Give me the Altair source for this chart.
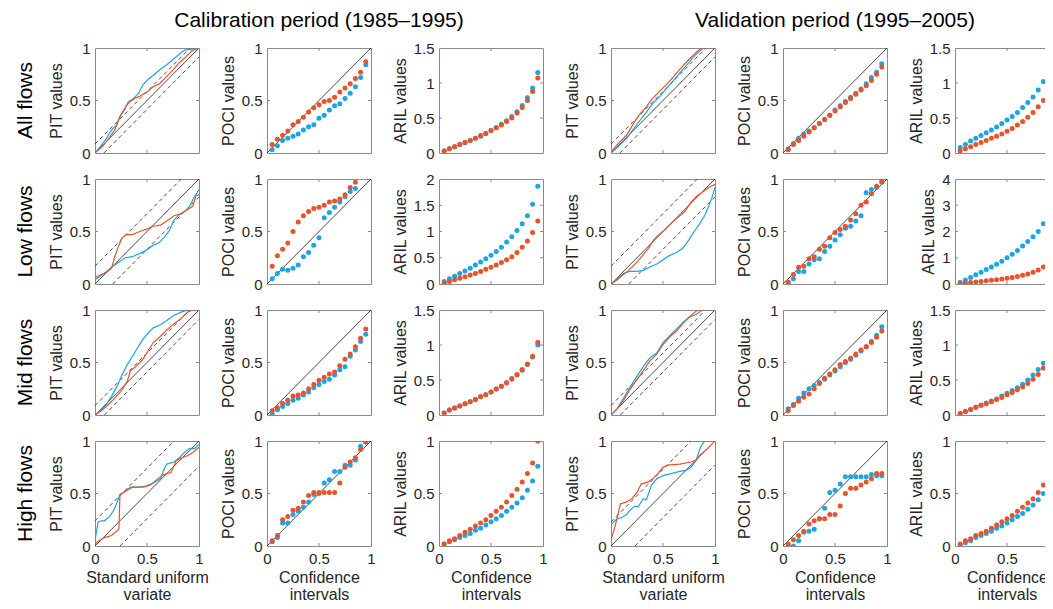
import altair as alt
import pandas as pd

FONT = "Liberation Sans"
BLUE = "#1ca5e4"
ORANGE = "#e8532b"
INK = "#262626"
FRAME = "#8a8a8a"

# ---------------- shared labels ----------------
row_labels = ["All flows", "Low flows", "Mid flows", "High flows"]
period_titles = ["Calibration period (1985–1995)", "Validation period (1995–2005)"]
ci = [0.05, 0.10, 0.15, 0.20, 0.25, 0.30, 0.35, 0.40, 0.45, 0.50,
      0.55, 0.60, 0.65, 0.70, 0.75, 0.80, 0.85, 0.90, 0.95]
unit_ticks = [0, 0.5, 1]

# Kolmogorov band half-widths of the PIT panels (rows: all, low, mid, high)
ks_band_cal = [0.085, 0.17, 0.09, 0.24]
ks_band_val = [0.085, 0.17, 0.09, 0.23]

# ARIL y-axis tick values (rows: all, low, mid, high)
aril_ticks_cal = [[0, 0.5, 1, 1.5], [0, 0.5, 1, 1.5, 2], [0, 0.5, 1, 1.5], [0, 0.5, 1]]
aril_ticks_val = [[0, 0.5, 1, 1.5], [0, 1, 2, 3, 4], [0, 0.5, 1, 1.5], [0, 0.5, 1]]

# ---------------- PIT curves (u = standard uniform variate, p = PIT value) ----------------
pit_all_cal_blue_u = [0, 0.05, 0.11, 0.16, 0.21, 0.24, 0.29, 0.32, 0.37, 0.42, 0.46, 0.51, 0.56, 0.62, 0.69, 0.75, 0.81, 0.86, 0.93, 1]
pit_all_cal_blue_p = [0, 0.06, 0.14, 0.22, 0.27, 0.35, 0.42, 0.49, 0.52, 0.57, 0.65, 0.70, 0.74, 0.79, 0.84, 0.89, 0.94, 0.98, 0.99, 1]
pit_all_cal_orange_u = [0, 0.08, 0.14, 0.19, 0.22, 0.26, 0.30, 0.34, 0.38, 0.43, 0.50, 0.56, 0.62, 0.69, 0.75, 0.81, 0.88, 0.94, 1]
pit_all_cal_orange_p = [0, 0.07, 0.15, 0.22, 0.30, 0.38, 0.45, 0.49, 0.52, 0.54, 0.58, 0.63, 0.66, 0.73, 0.79, 0.86, 0.92, 0.98, 1]
pit_all_val_blue_u = [0, 0.08, 0.15, 0.21, 0.27, 0.34, 0.40, 0.47, 0.53, 0.60, 0.66, 0.73, 0.79, 0.85, 0.89, 1]
pit_all_val_blue_p = [0, 0.07, 0.14, 0.22, 0.30, 0.39, 0.47, 0.54, 0.61, 0.69, 0.76, 0.84, 0.91, 0.97, 1.0, 1.0]
pit_all_val_orange_u = [0, 0.08, 0.15, 0.21, 0.27, 0.34, 0.39, 0.44, 0.50, 0.56, 0.63, 0.69, 0.76, 0.82, 0.87, 1]
pit_all_val_orange_p = [0.01, 0.10, 0.17, 0.27, 0.36, 0.44, 0.51, 0.56, 0.62, 0.68, 0.76, 0.83, 0.90, 0.96, 1.0, 1.0]
pit_low_cal_blue_u = [0, 0.06, 0.11, 0.16, 0.23, 0.29, 0.36, 0.43, 0.49, 0.56, 0.61, 0.66, 0.71, 0.76, 0.81, 0.86, 0.91, 0.95, 1]
pit_low_cal_blue_p = [0.04, 0.08, 0.12, 0.16, 0.21, 0.25, 0.26, 0.29, 0.32, 0.37, 0.39, 0.44, 0.50, 0.61, 0.66, 0.69, 0.74, 0.82, 0.90]
pit_low_cal_orange_u = [0, 0.06, 0.11, 0.16, 0.19, 0.23, 0.26, 0.30, 0.36, 0.43, 0.49, 0.56, 0.63, 0.69, 0.76, 0.83, 0.89, 0.94, 0.97, 1]
pit_low_cal_orange_p = [0.06, 0.09, 0.11, 0.15, 0.26, 0.37, 0.44, 0.47, 0.47, 0.50, 0.52, 0.55, 0.56, 0.60, 0.65, 0.67, 0.71, 0.74, 0.84, 0.85]
pit_low_val_blue_u = [0, 0.06, 0.12, 0.18, 0.25, 0.31, 0.37, 0.44, 0.50, 0.56, 0.63, 0.69, 0.75, 0.80, 0.85, 0.90, 0.94, 0.97, 1]
pit_low_val_blue_p = [0, 0.05, 0.10, 0.12, 0.12, 0.13, 0.16, 0.19, 0.23, 0.27, 0.30, 0.34, 0.42, 0.50, 0.57, 0.65, 0.74, 0.82, 0.92]
pit_low_val_orange_u = [0, 0.06, 0.12, 0.17, 0.22, 0.26, 0.31, 0.36, 0.41, 0.45, 0.52, 0.58, 0.64, 0.71, 0.77, 0.83, 0.90, 0.94, 1]
pit_low_val_orange_p = [0, 0.04, 0.09, 0.13, 0.18, 0.22, 0.28, 0.34, 0.42, 0.46, 0.52, 0.58, 0.63, 0.69, 0.78, 0.84, 0.89, 0.92, 0.95]
pit_mid_cal_blue_u = [0, 0.06, 0.11, 0.16, 0.21, 0.26, 0.31, 0.36, 0.41, 0.46, 0.51, 0.56, 0.63, 0.69, 0.76, 0.83, 0.89, 1]
pit_mid_cal_blue_p = [0, 0.05, 0.10, 0.18, 0.27, 0.38, 0.48, 0.56, 0.64, 0.72, 0.78, 0.83, 0.86, 0.90, 0.95, 0.98, 1.0, 1.0]
pit_mid_cal_orange_u = [0, 0.06, 0.13, 0.19, 0.26, 0.31, 0.34, 0.39, 0.46, 0.51, 0.56, 0.63, 0.69, 0.76, 0.83, 0.89, 0.94, 1]
pit_mid_cal_orange_p = [0, 0.04, 0.10, 0.16, 0.24, 0.32, 0.42, 0.46, 0.53, 0.61, 0.69, 0.75, 0.81, 0.87, 0.92, 0.98, 1.0, 1.0]
pit_mid_val_blue_u = [0, 0.06, 0.12, 0.18, 0.25, 0.31, 0.37, 0.44, 0.50, 0.56, 0.63, 0.69, 0.75, 0.82, 0.88, 1]
pit_mid_val_blue_p = [0, 0.06, 0.16, 0.26, 0.37, 0.46, 0.54, 0.59, 0.69, 0.75, 0.82, 0.88, 0.93, 0.96, 1.0, 1.0]
pit_mid_val_orange_u = [0, 0.06, 0.12, 0.18, 0.25, 0.31, 0.37, 0.44, 0.50, 0.56, 0.63, 0.69, 0.75, 0.82, 0.85, 1]
pit_mid_val_orange_p = [0, 0.06, 0.14, 0.24, 0.34, 0.42, 0.51, 0.58, 0.67, 0.74, 0.80, 0.87, 0.93, 0.99, 1.0, 1.0]
pit_high_cal_blue_u = [0, 0.03, 0.06, 0.09, 0.14, 0.18, 0.21, 0.24, 0.29, 0.34, 0.41, 0.49, 0.56, 0.63, 0.66, 0.69, 0.76, 0.81, 0.86, 0.91, 0.96, 1]
pit_high_cal_blue_p = [0.05, 0.23, 0.24, 0.24, 0.28, 0.34, 0.41, 0.49, 0.52, 0.56, 0.56, 0.57, 0.60, 0.64, 0.72, 0.78, 0.80, 0.84, 0.89, 0.93, 0.93, 0.97]
pit_high_cal_orange_u = [0, 0.04, 0.09, 0.16, 0.23, 0.24, 0.29, 0.36, 0.46, 0.53, 0.59, 0.66, 0.73, 0.78, 0.83, 0.89, 0.94, 1]
pit_high_cal_orange_p = [0.02, 0.05, 0.08, 0.10, 0.16, 0.49, 0.52, 0.56, 0.56, 0.58, 0.63, 0.68, 0.70, 0.81, 0.84, 0.86, 0.89, 0.94]
pit_high_val_blue_u = [0, 0.06, 0.10, 0.15, 0.18, 0.23, 0.26, 0.31, 0.34, 0.39, 0.44, 0.50, 0.58, 0.66, 0.72, 0.77, 0.82, 0.86, 0.90, 1]
pit_high_val_blue_p = [0.21, 0.26, 0.27, 0.30, 0.34, 0.38, 0.37, 0.45, 0.44, 0.58, 0.64, 0.67, 0.69, 0.71, 0.72, 0.75, 0.82, 0.94, 1.0, 1.0]
pit_high_val_orange_u = [0, 0.04, 0.09, 0.15, 0.20, 0.25, 0.29, 0.36, 0.40, 0.45, 0.50, 0.55, 0.66, 0.77, 0.82, 0.86, 0.93, 1]
pit_high_val_orange_p = [0.06, 0.19, 0.40, 0.42, 0.45, 0.51, 0.59, 0.61, 0.64, 0.69, 0.75, 0.77, 0.78, 0.80, 0.82, 0.87, 0.93, 1.0]

# ---------------- POCI values at each confidence interval ----------------
poci_all_cal_blue = [0.03, 0.07, 0.12, 0.14, 0.16, 0.18, 0.22, 0.25, 0.27, 0.33, 0.36, 0.41, 0.45, 0.47, 0.52, 0.57, 0.63, 0.72, 0.84]
poci_all_cal_orange = [0.08, 0.13, 0.17, 0.21, 0.27, 0.30, 0.34, 0.39, 0.43, 0.46, 0.49, 0.50, 0.53, 0.58, 0.62, 0.66, 0.71, 0.77, 0.87]
poci_all_val_blue = [0.04, 0.09, 0.14, 0.18, 0.21, 0.24, 0.28, 0.32, 0.36, 0.41, 0.45, 0.49, 0.53, 0.57, 0.61, 0.66, 0.72, 0.77, 0.85]
poci_all_val_orange = [0.03, 0.08, 0.12, 0.16, 0.20, 0.24, 0.28, 0.32, 0.36, 0.40, 0.44, 0.48, 0.52, 0.56, 0.60, 0.64, 0.69, 0.75, 0.82]
poci_low_cal_blue = [0.05, 0.10, 0.14, 0.13, 0.15, 0.18, 0.26, 0.30, 0.37, 0.44, 0.63, 0.68, 0.73, 0.78, 0.83, 0.88, 0.91, None, None]
poci_low_cal_orange = [0.17, 0.27, 0.33, 0.39, 0.50, 0.59, 0.65, 0.69, 0.72, 0.73, 0.75, 0.78, 0.79, 0.81, 0.85, 0.92, 0.97, None, None]
poci_low_val_blue = [0.01, 0.05, 0.12, 0.12, 0.19, 0.23, 0.24, 0.31, 0.36, 0.42, 0.47, 0.53, 0.55, 0.60, 0.65, 0.87, 0.90, 0.92, 0.97]
poci_low_val_orange = [0.02, 0.09, 0.16, 0.17, 0.24, 0.26, 0.33, 0.36, 0.44, 0.49, 0.52, 0.55, 0.61, 0.67, 0.75, 0.78, 0.86, 0.93, 0.98]
poci_mid_cal_blue = [0.01, 0.05, 0.08, 0.11, 0.14, 0.16, 0.19, 0.22, 0.26, 0.29, 0.32, 0.34, 0.38, 0.43, 0.46, 0.56, 0.62, 0.70, 0.77]
poci_mid_cal_orange = [0.04, 0.07, 0.11, 0.14, 0.18, 0.19, 0.21, 0.25, 0.29, 0.33, 0.36, 0.39, 0.41, 0.47, 0.53, 0.58, 0.65, 0.73, 0.82]
poci_mid_val_blue = [0.06, 0.10, 0.16, 0.21, 0.25, 0.28, 0.31, 0.34, 0.38, 0.42, 0.46, 0.50, 0.53, 0.57, 0.61, 0.65, 0.70, 0.76, 0.84]
poci_mid_val_orange = [0.04, 0.09, 0.13, 0.17, 0.20, 0.25, 0.30, 0.35, 0.39, 0.43, 0.48, 0.51, 0.54, 0.58, 0.62, 0.65, 0.69, 0.74, 0.80]
poci_high_cal_blue = [0.04, 0.08, 0.22, 0.22, 0.30, 0.33, 0.37, 0.42, 0.49, 0.50, 0.60, 0.63, 0.71, 0.71, 0.77, 0.77, 0.82, 0.95, 0.99]
poci_high_cal_orange = [0.05, 0.10, 0.25, 0.28, 0.34, 0.36, 0.42, 0.48, 0.51, 0.51, 0.51, 0.51, 0.51, 0.60, 0.75, 0.80, 0.84, 0.92, 0.99]
poci_high_val_blue = [0.00, 0.00, 0.05, 0.13, 0.14, 0.16, 0.26, 0.36, 0.51, 0.53, 0.59, 0.66, 0.66, 0.66, 0.66, 0.66, 0.68, 0.67, 0.67]
poci_high_val_orange = [0.02, 0.06, 0.10, 0.14, 0.21, 0.24, 0.26, 0.26, 0.30, 0.30, 0.38, 0.50, 0.55, 0.55, 0.58, 0.61, 0.64, 0.69, 0.69]

# ---------------- ARIL values at each confidence interval ----------------
aril_all_cal_blue = [0.03, 0.06, 0.09, 0.12, 0.15, 0.18, 0.21, 0.24, 0.28, 0.32, 0.36, 0.41, 0.46, 0.52, 0.59, 0.68, 0.79, 0.93, 1.15]
aril_all_cal_orange = [0.03, 0.06, 0.09, 0.12, 0.15, 0.18, 0.21, 0.25, 0.28, 0.32, 0.36, 0.40, 0.45, 0.50, 0.57, 0.65, 0.75, 0.88, 1.07]
aril_all_val_blue = [0.08, 0.12, 0.17, 0.21, 0.25, 0.29, 0.33, 0.37, 0.42, 0.47, 0.52, 0.58, 0.65, 0.72, 0.80, 0.90, 1.02, 1.20, 1.45]
aril_all_val_orange = [0.03, 0.06, 0.09, 0.12, 0.15, 0.18, 0.21, 0.24, 0.27, 0.31, 0.35, 0.40, 0.45, 0.51, 0.58, 0.66, 0.75, 0.86, 1.06]
aril_low_cal_blue = [0.05, 0.10, 0.15, 0.20, 0.25, 0.30, 0.36, 0.42, 0.48, 0.55, 0.62, 0.70, 0.80, 0.90, 1.02, 1.15, 1.30, 1.52, 1.86]
aril_low_cal_orange = [0.02, 0.05, 0.08, 0.11, 0.14, 0.17, 0.20, 0.24, 0.28, 0.32, 0.36, 0.41, 0.46, 0.52, 0.60, 0.70, 0.82, 0.98, 1.20]
aril_low_val_blue = [0.07, 0.15, 0.25, 0.35, 0.45, 0.55, 0.65, 0.75, 0.87, 1.00, 1.13, 1.28, 1.45, 1.62, 1.80, 2.00, 2.30, 2.65, 3.25]
aril_low_val_orange = [0.02, 0.04, 0.06, 0.08, 0.10, 0.12, 0.14, 0.16, 0.19, 0.22, 0.25, 0.29, 0.33, 0.38, 0.45, 0.53, 0.65, 0.83, 1.12]
aril_mid_cal_blue = [0.03, 0.07, 0.10, 0.13, 0.16, 0.19, 0.22, 0.26, 0.29, 0.33, 0.37, 0.41, 0.46, 0.51, 0.57, 0.64, 0.72, 0.83, 1.00]
aril_mid_cal_orange = [0.03, 0.07, 0.10, 0.13, 0.16, 0.19, 0.22, 0.26, 0.29, 0.33, 0.37, 0.41, 0.46, 0.52, 0.58, 0.65, 0.73, 0.84, 1.04]
aril_mid_val_blue = [0.02, 0.05, 0.08, 0.11, 0.14, 0.17, 0.20, 0.23, 0.27, 0.31, 0.35, 0.39, 0.44, 0.50, 0.57, 0.65, 0.74, 0.86, 1.05]
aril_mid_val_orange = [0.02, 0.05, 0.08, 0.11, 0.14, 0.16, 0.19, 0.22, 0.25, 0.29, 0.32, 0.36, 0.40, 0.45, 0.51, 0.58, 0.67, 0.78, 0.95]
aril_high_cal_blue = [0.02, 0.04, 0.06, 0.08, 0.10, 0.12, 0.15, 0.17, 0.20, 0.23, 0.26, 0.29, 0.33, 0.37, 0.41, 0.46, 0.53, 0.62, 0.76]
aril_high_cal_orange = [0.02, 0.05, 0.07, 0.10, 0.13, 0.16, 0.19, 0.22, 0.25, 0.29, 0.33, 0.37, 0.42, 0.48, 0.54, 0.61, 0.69, 0.79, 1.00]
aril_high_val_blue = [0.01, 0.03, 0.05, 0.08, 0.10, 0.12, 0.14, 0.17, 0.19, 0.22, 0.25, 0.28, 0.31, 0.35, 0.39, 0.44, 0.50, 0.57, 0.70]
aril_high_val_orange = [0.02, 0.05, 0.07, 0.10, 0.12, 0.14, 0.17, 0.20, 0.23, 0.26, 0.29, 0.33, 0.37, 0.41, 0.45, 0.51, 0.58, 0.67, 0.83]

# ---------------- grouping by (row, period) ----------------
pit_data = {
    ("all", "cal"): (pit_all_cal_blue_u, pit_all_cal_blue_p, pit_all_cal_orange_u, pit_all_cal_orange_p),
    ("all", "val"): (pit_all_val_blue_u, pit_all_val_blue_p, pit_all_val_orange_u, pit_all_val_orange_p),
    ("low", "cal"): (pit_low_cal_blue_u, pit_low_cal_blue_p, pit_low_cal_orange_u, pit_low_cal_orange_p),
    ("low", "val"): (pit_low_val_blue_u, pit_low_val_blue_p, pit_low_val_orange_u, pit_low_val_orange_p),
    ("mid", "cal"): (pit_mid_cal_blue_u, pit_mid_cal_blue_p, pit_mid_cal_orange_u, pit_mid_cal_orange_p),
    ("mid", "val"): (pit_mid_val_blue_u, pit_mid_val_blue_p, pit_mid_val_orange_u, pit_mid_val_orange_p),
    ("high", "cal"): (pit_high_cal_blue_u, pit_high_cal_blue_p, pit_high_cal_orange_u, pit_high_cal_orange_p),
    ("high", "val"): (pit_high_val_blue_u, pit_high_val_blue_p, pit_high_val_orange_u, pit_high_val_orange_p),
}
poci_data = {
    ("all", "cal"): (poci_all_cal_blue, poci_all_cal_orange),
    ("all", "val"): (poci_all_val_blue, poci_all_val_orange),
    ("low", "cal"): (poci_low_cal_blue, poci_low_cal_orange),
    ("low", "val"): (poci_low_val_blue, poci_low_val_orange),
    ("mid", "cal"): (poci_mid_cal_blue, poci_mid_cal_orange),
    ("mid", "val"): (poci_mid_val_blue, poci_mid_val_orange),
    ("high", "cal"): (poci_high_cal_blue, poci_high_cal_orange),
    ("high", "val"): (poci_high_val_blue, poci_high_val_orange),
}
aril_data = {
    ("all", "cal"): (aril_all_cal_blue, aril_all_cal_orange),
    ("all", "val"): (aril_all_val_blue, aril_all_val_orange),
    ("low", "cal"): (aril_low_cal_blue, aril_low_cal_orange),
    ("low", "val"): (aril_low_val_blue, aril_low_val_orange),
    ("mid", "cal"): (aril_mid_cal_blue, aril_mid_cal_orange),
    ("mid", "val"): (aril_mid_val_blue, aril_mid_val_orange),
    ("high", "cal"): (aril_high_cal_blue, aril_high_cal_orange),
    ("high", "val"): (aril_high_val_blue, aril_high_val_orange),
}
row_keys = ["all", "low", "mid", "high"]

W, H = 104, 105
TICK = 3                      # length of the inward tick marks, px
SVG_W, SVG_H = 1037, 593      # drawing surface; the right column runs past it, as in the source
ORIGIN_X, ORIGIN_Y = 87, 40   # top-left corner of the first panel inside the surface


def encodings(bottom, xtitle, ytitle, yvals):
    if bottom:
        xax = alt.Axis(values=unit_ticks, format="~g", title=xtitle, labelFlush=False,
                       labelOverlap=False, labelPadding=5, titlePadding=3,
                       titleFontSize=16, titleLineHeight=17)
    else:
        xax = alt.Axis(values=unit_ticks, labels=False, title=None)
    yax = alt.Axis(values=yvals, format="~g", title=ytitle, labelFlush=False,
                   labelOverlap=False, labelPadding=5, titlePadding=5)
    x = alt.X("x:Q", scale=alt.Scale(domain=[0, 1], nice=False, zero=False), axis=xax)
    y = alt.Y("y:Q", scale=alt.Scale(domain=[yvals[0], yvals[-1]], nice=False, zero=False), axis=yax)
    return x, y


def inner_ticks(x, y, yvals):
    """MATLAB-style inward ticks on all four sides of the box."""
    xdf = pd.DataFrame({"x": unit_ticks[1:-1]})
    ydf = pd.DataFrame({"y": yvals[1:-1]})
    rule = dict(color=FRAME, strokeWidth=1)
    return [
        alt.Chart(xdf).mark_rule(**rule).encode(x=x, y=alt.value(0), y2=alt.value(TICK)),
        alt.Chart(xdf).mark_rule(**rule).encode(x=x, y=alt.value(H - TICK), y2=alt.value(H)),
        alt.Chart(ydf).mark_rule(**rule).encode(y=y, x=alt.value(0), x2=alt.value(TICK)),
        alt.Chart(ydf).mark_rule(**rule).encode(y=y, x=alt.value(W - TICK), x2=alt.value(W)),
    ]


def finish(layers, title):
    ch = alt.layer(*layers)
    if title is not None:
        return ch.properties(width=W, height=H, title=title)
    return ch.properties(width=W, height=H)


def diag_layer(x, y):
    df = pd.DataFrame({"x": [0, 1], "y": [0, 1]})
    return alt.Chart(df).mark_line(color="#1a1a1a", strokeWidth=0.8).encode(x=x, y=y)


def pit_panel(key, band, bottom, title):
    bu, bp, ou, op = pit_data[key]
    x, y = encodings(bottom, ["Standard uniform", "variate"], "PIT values", unit_ticks)
    band_df = pd.DataFrame({"x": [0, 1 - band, band, 1],
                            "y": [band, 1, 0, 1 - band],
                            "g": ["upper", "upper", "lower", "lower"]})
    dashed = alt.Chart(band_df).mark_line(color="#3a3a3a", strokeWidth=0.9,
                                          strokeDash=[4, 3]).encode(x=x, y=y, detail="g:N")
    blue = alt.Chart(pd.DataFrame({"x": bu, "y": bp})).mark_line(
        color=BLUE, strokeWidth=1.2, clip=True).encode(x=x, y=y)
    orange = alt.Chart(pd.DataFrame({"x": ou, "y": op})).mark_line(
        color=ORANGE, strokeWidth=1.2, clip=True).encode(x=x, y=y)
    return finish([diag_layer(x, y), dashed, blue, orange] + inner_ticks(x, y, unit_ticks), title)


def dots_panel(blue_vals, orange_vals, yvals, ytitle, bottom, title, diagonal):
    x, y = encodings(bottom, ["Confidence", "intervals"], ytitle, yvals)
    layers = []
    if diagonal:
        layers.append(diag_layer(x, y))
    for vals, col in ((blue_vals, BLUE), (orange_vals, ORANGE)):
        df = pd.DataFrame({"x": ci, "y": vals})
        layers.append(alt.Chart(df).mark_circle(color=col, size=25, opacity=1,
                                                clip=True).encode(x=x, y=y))
    return finish(layers + inner_ticks(x, y, yvals), title)


def row_title(text):
    return alt.TitleParams(text=text, orient="left", anchor="middle", frame="group",
                           fontSize=21, offset=12, font=FONT, fontWeight="normal", color="#000000")


def col_title(text):
    return alt.TitleParams(text=text, orient="top", anchor="middle", frame="group",
                           fontSize=21, offset=10, font=FONT, fontWeight="normal", color="#000000")


panels = []
for r, rk in enumerate(row_keys):
    bottom = r == 3
    for p, per in enumerate(["cal", "val"]):
        key = (rk, per)
        band = (ks_band_cal if per == "cal" else ks_band_val)[r]
        aril_ticks = (aril_ticks_cal if per == "cal" else aril_ticks_val)[r]
        t1 = row_title(row_labels[r]) if p == 0 else None
        t2 = col_title(period_titles[p]) if r == 0 else None
        panels.append(pit_panel(key, band, bottom, t1))
        bv, ov = poci_data[key]
        panels.append(dots_panel(bv, ov, unit_ticks, "POCI values", bottom, t2, True))
        bv, ov = aril_data[key]
        panels.append(dots_panel(bv, ov, aril_ticks, "ARIL values", bottom, None, False))

chart = alt.concat(
    *panels, columns=6, spacing={"row": 26, "column": 68}, bounds="flush"
).properties(
    autosize=alt.AutoSizeParams(type="none"),
    padding={"left": ORIGIN_X, "top": ORIGIN_Y,
             "right": SVG_W - ORIGIN_X, "bottom": SVG_H - ORIGIN_Y}
).configure_view(
    stroke=FRAME, strokeWidth=1
).configure_axis(
    grid=False, domain=False, ticks=False,
    labelFont=FONT, titleFont=FONT, labelFontSize=15, titleFontSize=16,
    titleFontWeight="normal", labelColor=INK, titleColor=INK
).configure_title(font=FONT, fontWeight="normal")

chart.save("out.html", embed_options={"renderer": "svg", "actions": False})
